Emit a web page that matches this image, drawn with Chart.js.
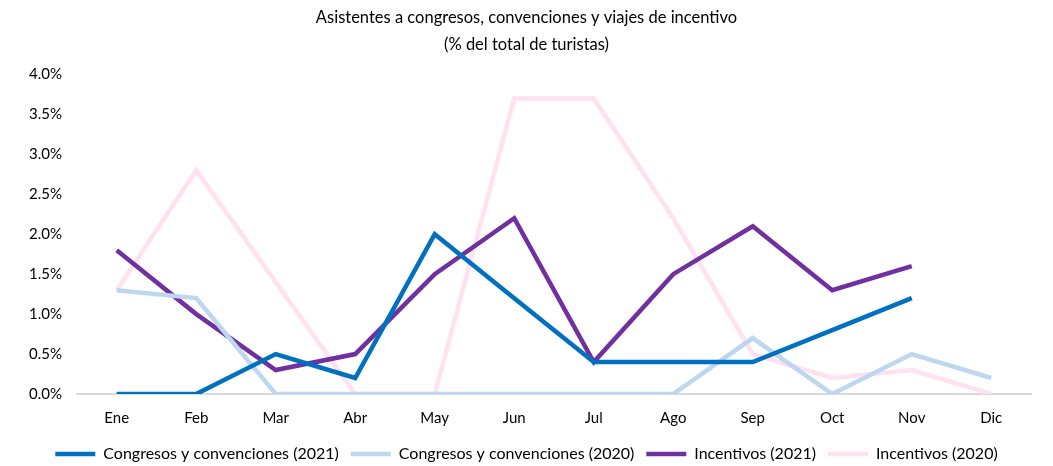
<!DOCTYPE html>
<html>
<head>
<meta charset="utf-8">
<script src="https://cdn.jsdelivr.net/npm/chart.js@4/dist/chart.umd.min.js"></script>
<style>
  body { margin: 0; background: #fff; }
  #wrap { width: 1053px; height: 466px; }
</style>
</head>
<body>
<div id="wrap"><canvas id="grafico"></canvas></div>
<script>
// Datos (% del total de turistas)
const meses = ["Ene", "Feb", "Mar", "Abr", "May", "Jun", "Jul", "Ago", "Sep", "Oct", "Nov", "Dic"];
const congresos2021 = [0, 0, 0.5, 0.2, 2.0, 1.2, 0.4, 0.4, 0.4, 0.8, 1.2, null];
const congresos2020 = [1.3, 1.2, 0, 0, 0, 0, 0, 0, 0.7, 0, 0.5, 0.2];
const incentivos2021 = [1.8, 1.0, 0.3, 0.5, 1.5, 2.2, 0.4, 1.5, 2.1, 1.3, 1.6, null];
const incentivos2020 = [1.3, 2.8, 1.4, 0, 0, 3.7, 3.7, 2.2, 0.5, 0.2, 0.3, 0];
const tituloGrafico = ["Asistentes a congresos, convenciones y viajes de incentivo", "(% del total de turistas)"];

const fuente = "'Lato', sans-serif";

function serie(label, data, color) {
  return {
    label: label,
    data: data,
    borderColor: color,
    backgroundColor: color,
    borderWidth: 4.5,
    pointRadius: 0,
    pointHoverRadius: 0,
    tension: 0,
    fill: false,
    spanGaps: false,
  };
}

const config = {
  type: "line",
  data: {
    labels: meses,
    datasets: [
      serie("Congresos y convenciones (2021)", congresos2021, "#0070C0"),
      serie("Congresos y convenciones (2020)", congresos2020, "#BDD7EE"),
      serie("Incentivos (2021)", incentivos2021, "#7030A0"),
      serie("Incentivos (2020)", incentivos2020, "#FFE1F0"),
    ],
  },
  options: {
    responsive: true,
    maintainAspectRatio: false,
    animation: false,
    layout: { padding: { left: 22, right: 22, top: 4, bottom: -6 } },
    plugins: {
      title: {
        display: true,
        text: tituloGrafico,
        color: "#000",
        font: { family: fuente, size: 16.5, weight: "normal", lineHeight: 1.65 },
        padding: { top: 0, bottom: 16 },
      },
      legend: {
        position: "bottom",
        labels: {
          usePointStyle: true,
          pointStyle: "line",
          pointStyleWidth: 40,
          color: "#000",
          font: { family: fuente, size: 16 },
          padding: 12,
        },
      },
      tooltip: { enabled: false },
    },
    scales: {
      x: {
        offset: true,
        grid: { display: false },
        border: { display: true, color: "#d9d9d9", width: 2 },
        ticks: { color: "#000", font: { family: fuente, size: 15 }, padding: 7 },
      },
      y: {
        min: 0,
        max: 4,
        grid: { display: false },
        border: { display: false },
        ticks: {
          stepSize: 0.5,
          color: "#000",
          padding: 7,
          font: { family: fuente, size: 15 },
          callback: (v) => v.toFixed(1) + "%",
        },
      },
    },
  },
};

new Chart(document.getElementById("grafico"), config);
</script>
</body>
</html>
